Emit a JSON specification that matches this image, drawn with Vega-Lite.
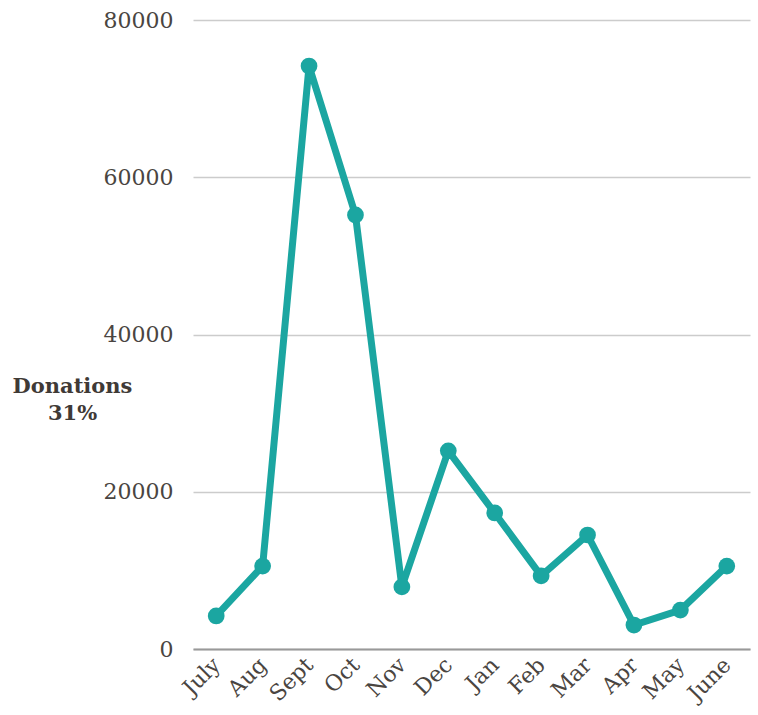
{
  "$schema": "https://vega.github.io/schema/vega-lite/v6.json",
  "autosize": {"type": "none"},
  "width": 557,
  "height": 629,
  "padding": {"left": 193, "top": 20, "right": 8, "bottom": 66},
  "background": "white",
  "config": {"view": {"stroke": null}, "font": "DejaVu Serif"},
  "data": {"values": [
    {"month": "July", "donations": 4200},
    {"month": "Aug", "donations": 10550},
    {"month": "Sept", "donations": 74150},
    {"month": "Oct", "donations": 55200},
    {"month": "Nov", "donations": 7900},
    {"month": "Dec", "donations": 25200},
    {"month": "Jan", "donations": 17300},
    {"month": "Feb", "donations": 9300},
    {"month": "Mar", "donations": 14500},
    {"month": "Apr", "donations": 3050},
    {"month": "May", "donations": 4950},
    {"month": "June", "donations": 10550}
  ]},
  "mark": {"type": "line", "color": "#1ba6a1", "strokeWidth": 7, "point": {"filled": true, "size": 280, "color": "#1ba6a1", "opacity": 1}},
  "encoding": {
    "x": {"field": "month", "type": "ordinal", "sort": null, "scale": {"type": "point", "padding": 0.5},
      "axis": {"title": null, "labelAngle": -45, "labelAlign": "right", "labelBaseline": "middle", "labelFont": "DejaVu Serif", "labelFontSize": 22, "labelColor": "#4a4541", "ticks": false, "labelPadding": 12, "domainColor": "#999999", "domainWidth": 2, "grid": false}},
    "y": {"field": "donations", "type": "quantitative", "scale": {"domain": [0, 80000]},
      "axis": {"values": [0, 20000, 40000, 60000, 80000], "format": "d", "ticks": false, "domain": false, "gridColor": "#cccccc", "gridWidth": 1.5, "labelFont": "DejaVu Serif", "labelFontSize": 22, "labelColor": "#4a4541", "labelPadding": 20,
        "title": ["Donations", "31%"], "titleAngle": 0, "titleX": -121, "titleY": 366, "titleAlign": "center", "titleBaseline": "middle", "titleFont": "DejaVu Serif", "titleFontSize": 21, "titleFontWeight": "bold", "titleColor": "#3f3a36", "titleLineHeight": 27}}
  }
}
